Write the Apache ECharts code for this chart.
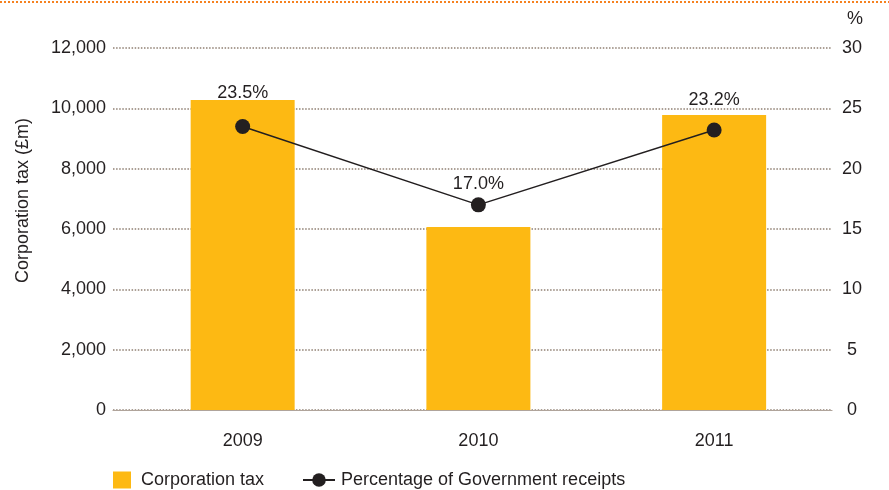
<!DOCTYPE html>
<html>
<head>
<meta charset="utf-8">
<script src="https://cdn.jsdelivr.net/npm/echarts@6/dist/echarts.min.js"></script>
<style>
  html, body { margin: 0; padding: 0; background: #ffffff; }
  #chart { width: 889px; height: 490px; }
</style>
</head>
<body>
<div id="chart"></div>
<script>
// Corporation tax receipts and their share of Government receipts
const years = ['2009', '2010', '2011'];
const corporationTax = [10280, 6070, 9780];       // £m
const shareOfReceipts = [23.5, 17.0, 23.2];        // %
const leftTicks = { min: 0, max: 12000, interval: 2000 };
const rightTicks = { min: 0, max: 30, interval: 5 };

// label lift above each point (px), so the text clears the bar top
const labelLift = [17, 4, 14];

const FONT = '"Liberation Sans", Arial, Helvetica, sans-serif';
const TEXT = '#231f20';
const BAR = '#fdb913';
const GRIDLINE = '#ab9f95';

const chart = echarts.init(document.getElementById('chart'), null, { renderer: 'canvas' });

const barData = corporationTax.map((v, i) => [i, v]);
const lineData = shareOfReceipts.map((v, i) => ({
  value: [i, v],
  label: { distance: labelLift[i] }
}));

chart.setOption({
  animation: false,
  textStyle: { fontFamily: FONT, color: TEXT },
  graphic: [{
    type: 'line',
    shape: { x1: 0, y1: 2, x2: 889, y2: 2 },
    style: { stroke: '#f58220', lineWidth: 2, lineDash: [2, 2] },
    silent: true
  }],
  grid: { left: 113, right: 57, top: 48, bottom: 80, outerBoundsMode: 'none', containLabel: false },
  legend: [{
    left: 113, top: 471, padding: 0,
    itemWidth: 18, itemHeight: 17,
    icon: 'rect',
    textStyle: { fontSize: 18, color: TEXT, fontFamily: FONT, padding: [0, 0, 0, 5] },
    data: ['Corporation tax']
  }, {
    left: 302, top: 471, padding: 0,
    itemWidth: 32, itemHeight: 17,
    textStyle: { fontSize: 18, color: TEXT, fontFamily: FONT, padding: [0, 0, 0, 1] },
    data: ['Percentage of Government receipts']
  }],
  xAxis: {
    type: 'value',
    min: -0.55, max: 2.5,
    axisLine: { show: true, lineStyle: { color: '#b0a49b', width: 1.2 } },
    axisTick: { show: false },
    splitLine: { show: false },
    axisLabel: {
      customValues: [0, 1, 2],
      formatter: v => years[Math.round(v)],
      fontSize: 18, color: TEXT, fontFamily: FONT, margin: 22
    }
  },
  yAxis: [{
    type: 'value',
    min: leftTicks.min, max: leftTicks.max, interval: leftTicks.interval,
    name: 'Corporation tax (£m)',
    nameLocation: 'middle',
    nameGap: 81,
    nameTextStyle: { fontSize: 18, color: TEXT, fontFamily: FONT, padding: [0, 0, 0, 57] },
    axisLine: { show: false },
    axisTick: { show: false },
    axisLabel: {
      fontSize: 18, color: TEXT, fontFamily: FONT, margin: 7,
      formatter: v => v.toLocaleString('en-GB')
    },
    splitLine: { show: true, lineStyle: { color: GRIDLINE, width: 2, type: [1.5, 1.6] } }
  }, {
    type: 'value',
    position: 'right',
    min: rightTicks.min, max: rightTicks.max, interval: rightTicks.interval,
    name: '%',
    nameLocation: 'end',
    nameGap: 20,
    nameTextStyle: { fontSize: 18, color: TEXT, fontFamily: FONT, align: 'center', padding: [0, 0, 0, 46] },
    axisLine: { show: false },
    axisTick: { show: false },
    axisLabel: { fontSize: 18, color: TEXT, fontFamily: FONT, margin: 20, align: 'center' },
    splitLine: { show: false }
  }],
  series: [{
    name: 'Corporation tax',
    type: 'bar',
    data: barData,
    barWidth: 104,
    itemStyle: { color: BAR },
    z: 2
  }, {
    name: 'Percentage of Government receipts',
    type: 'line',
    yAxisIndex: 1,
    data: lineData,
    symbol: 'circle',
    symbolSize: 15,
    lineStyle: { color: TEXT, width: 1.5 },
    itemStyle: { color: TEXT },
    label: {
      show: true,
      position: 'top',
      fontSize: 18,
      color: TEXT,
      fontFamily: FONT,
      formatter: p => p.value[1].toFixed(1) + '%'
    },
    z: 3
  }]
});
</script>
</body>
</html>
